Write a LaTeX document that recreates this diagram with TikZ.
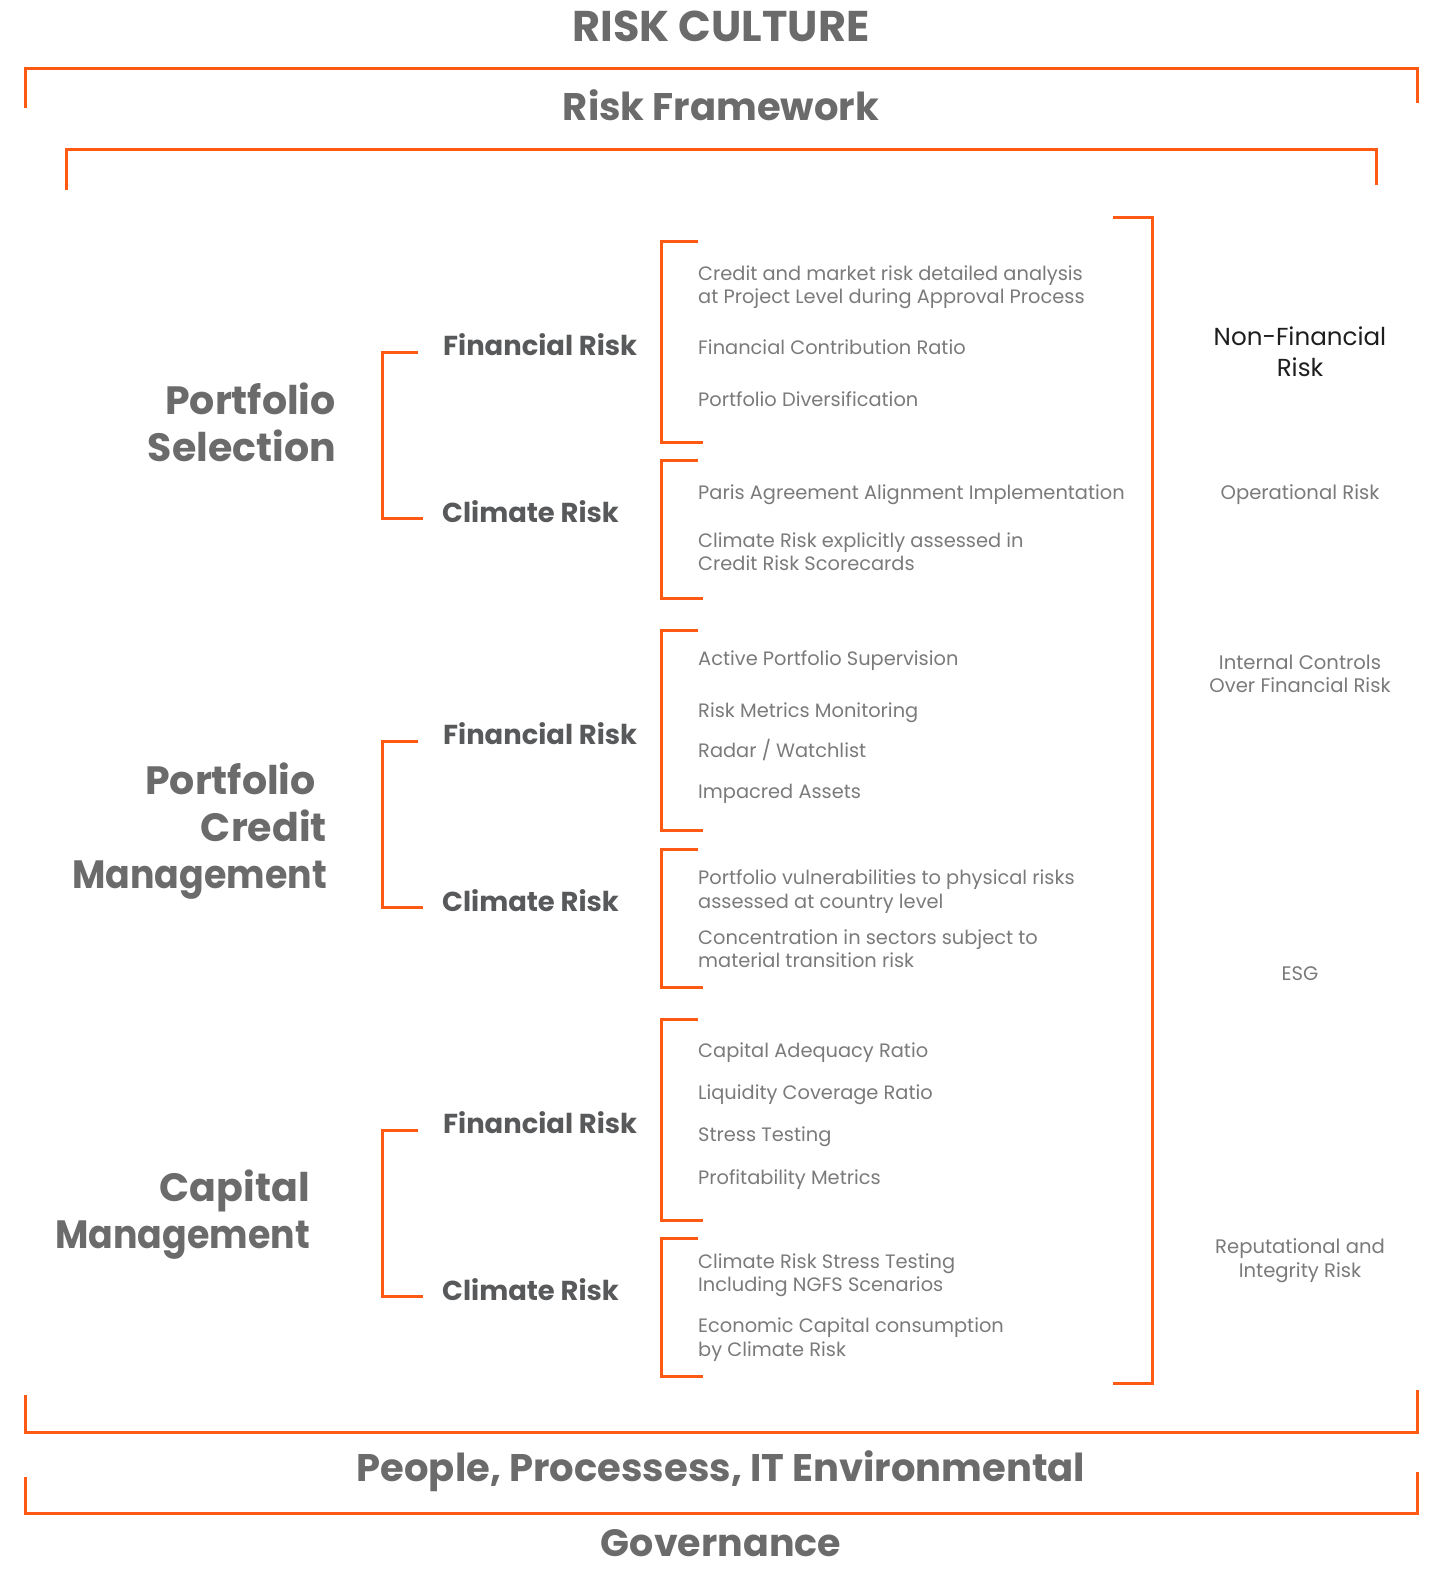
\documentclass[tikz,border=0pt]{standalone}
\usepackage{fontspec}
\setmainfont{Poppins}
\definecolor{orng}{HTML}{FF5A14}
\definecolor{gtitle}{HTML}{6B6B6B}
\definecolor{ghead}{HTML}{58595B}
\definecolor{gitem}{HTML}{7A7A7A}
\definecolor{nfr}{HTML}{1E1E1E}
\tikzset{
  br/.style={draw=orng, line width=3pt},
  title/.style={inner sep=0pt, text depth=0pt, anchor=center, text height=26.6pt, font=\fontsize{38.5}{42}\selectfont\bfseries, text=gtitle},
  grp/.style={inner sep=0pt, text height=27.3pt, text depth=0pt, anchor=east, font=\fontsize{39.5}{44}\selectfont\bfseries, text=gtitle},
  head/.style={inner sep=0pt, text height=18.9pt, text depth=0pt, anchor=west, font=\fontsize{27.4}{30}\selectfont\bfseries, text=ghead},
  item/.style={inner sep=0pt, text height=13.4pt, text depth=0pt, anchor=west, font=\fontsize{19.4}{22}\selectfont, text=gitem},
  side/.style={inner sep=0pt, text height=13.5pt, text depth=0pt, anchor=center, font=\fontsize{19.6}{22}\selectfont, text=gitem},
  nfin/.style={inner sep=0pt, text height=17pt, text depth=0pt, anchor=center, font=\fontsize{24.6}{28}\selectfont, text=nfr},
}
\newcommand{\mgmt}{\scalebox{0.92}[1]{Management}}
\begin{document}
\begin{tikzpicture}[x=1pt,y=-1pt]
\useasboundingbox (0,0) rectangle (1436,1569);
% titles
\node[title, text height=29.7pt, font=\fontsize{43}{46}\selectfont\bfseries] (rc) at (721,27) {RISK CULTURE};
\node[title] (rf) at (721,107) {Risk Framework};
\node[title] (pp) at (721,1468) {People, Processess, IT Environmental};
\node[title, text height=26pt, font=\fontsize{38}{42}\selectfont\bfseries] (gov) at (721,1543) {Governance};
% outer brackets
\draw[br] (25,108) -- (25,68) -- (1417,68) -- (1417,103);
\draw[br] (66,190) -- (66,149) -- (1376,149) -- (1376,185);
\draw[br] (25,1395) -- (25,1432) -- (1417,1432) -- (1417,1390);
\draw[br] (25,1477) -- (25,1513) -- (1417,1513) -- (1417,1472);
% big right bracket
\draw[br] (1113,217) -- (1152,217) -- (1152,1383) -- (1113,1383);
% right column
\node[nfin] (nf1) at (1300,337) {Non-Financial};
\node[nfin] (nf2) at (1300,368) {Risk};
\node[side] (op) at (1300,493) {Operational Risk};
\node[side] (ic1) at (1300,663) {Internal Controls};
\node[side] (ic2) at (1300,686) {Over Financial Risk};
\node[side] (esg) at (1300,974) {ESG};
\node[side] (ri1) at (1300,1247) {Reputational and};
\node[side] (ri2) at (1300,1271) {Integrity Risk};
% group 1
\node[grp] (g1a) at (336,401) {Portfolio};
\node[grp] (g1b) at (336,448) {Selection};
\draw[br] (418,352) -- (382,352) -- (382,518) -- (423,518);
\node[head] (f1) at (443,346) {Financial Risk};
\node[head] (c1) at (442,513) {Climate Risk};
\draw[br] (698,241) -- (661,241) -- (661,442) -- (703,442);
\node[item] (i11) at (698,274) {Credit and market risk detailed analysis};
\node[item] (i12) at (698,297) {at Project Level during Approval Process};
\node[item] (i13) at (698,348) {Financial Contribution Ratio};
\node[item] (i14) at (698,400) {Portfolio Diversification};
\draw[br] (698,460) -- (661,460) -- (661,598) -- (703,598);
\node[item] (i15) at (698,493) {Paris Agreement Alignment Implementation};
\node[item] (i16) at (698,541) {Climate Risk explicitly assessed in};
\node[item] (i17) at (698,564) {Credit Risk Scorecards};
% group 2
\node[grp] (g2a) at (316,781) {Portfolio};
\node[grp] (g2b) at (327,828) {Credit};
\node[grp] (g2c) at (327,875) {\mgmt};
\draw[br] (418,741) -- (382,741) -- (382,907) -- (423,907);
\node[head] (f2) at (443,735) {Financial Risk};
\node[head] (c2) at (442,902) {Climate Risk};
\draw[br] (698,630) -- (661,630) -- (661,830) -- (703,830);
\node[item] (i21) at (698,659) {Active Portfolio Supervision};
\node[item] (i22) at (698,711) {Risk Metrics Monitoring};
\node[item] (i23) at (698,751) {Radar / Watchlist};
\node[item] (i24) at (698,792) {Impacred Assets};
\draw[br] (698,849) -- (661,849) -- (661,987) -- (703,987);
\node[item] (i25) at (698,878) {Portfolio vulnerabilities to physical risks};
\node[item] (i26) at (698,902) {assessed at country level};
\node[item] (i27) at (698,938) {Concentration in sectors subject to};
\node[item] (i28) at (698,961) {material transition risk};
% group 3
\node[grp] (g3a) at (310,1188) {Capital};
\node[grp] (g3b) at (310,1235) {\mgmt};
\draw[br] (418,1130) -- (382,1130) -- (382,1296) -- (423,1296);
\node[head] (f3) at (443,1124) {Financial Risk};
\node[head] (c3) at (442,1291) {Climate Risk};
\draw[br] (698,1019) -- (661,1019) -- (661,1220) -- (703,1220);
\node[item] (i31) at (698,1051) {Capital Adequacy Ratio};
\node[item] (i32) at (698,1093) {Liquidity Coverage Ratio};
\node[item] (i33) at (698,1135) {Stress Testing};
\node[item] (i34) at (698,1178) {Profitability Metrics};
\draw[br] (698,1238) -- (661,1238) -- (661,1376) -- (703,1376);
\node[item] (i35) at (698,1262) {Climate Risk Stress Testing};
\node[item] (i36) at (698,1285) {Including NGFS Scenarios};
\node[item] (i37) at (698,1326) {Economic Capital consumption};
\node[item] (i38) at (698,1350) {by Climate Risk};
\end{tikzpicture}
\end{document}
